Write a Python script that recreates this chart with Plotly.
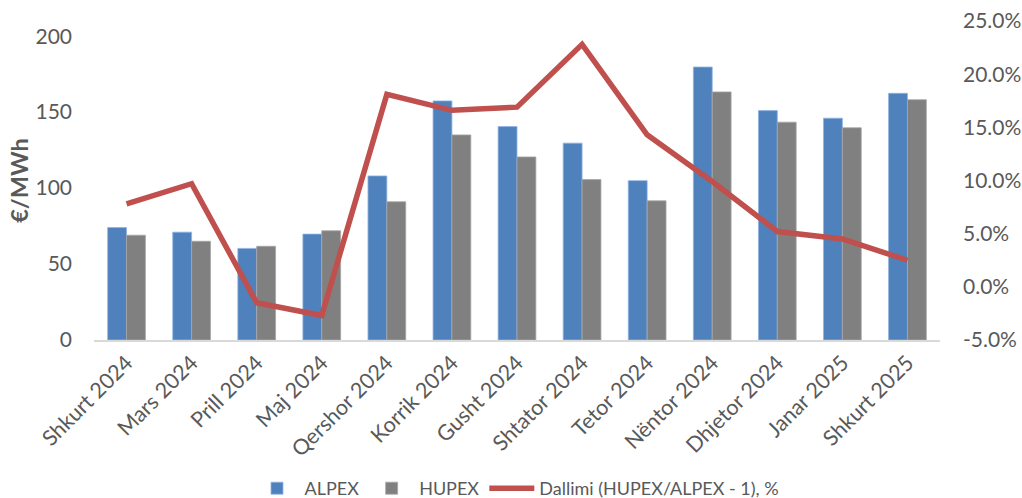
import plotly.graph_objects as go

categories = ["Shkurt 2024", "Mars 2024", "Prill 2024", "Maj 2024", "Qershor 2024",
              "Korrik 2024", "Gusht 2024", "Shtator 2024", "Tetor 2024", "Nëntor 2024",
              "Dhjetor 2024", "Janar 2025", "Shkurt 2025"]
alpex = [74, 71, 60.3, 69.7, 108, 157.4, 140.5, 129.6, 104.9, 179.7, 151, 146, 162.4]
hupex = [69, 65, 61.7, 71.9, 91, 135, 120.5, 105.6, 91.6, 163.3, 143.4, 139.7, 158.2]
diff_pct = [7.8, 9.7, -1.5, -2.7, 18.1, 16.6, 16.9, 22.8, 14.3, 9.9, 5.2, 4.5, 2.5]

FONT = "Lato, Open Sans, sans-serif"
TXT = "#595959"

fig = go.Figure()
fig.add_trace(go.Bar(name="ALPEX", x=categories, y=alpex,
                     marker=dict(color="#4F81BD", line=dict(color="#8EB4E3", width=0.8))))
fig.add_trace(go.Bar(name="HUPEX", x=categories, y=hupex,
                     marker=dict(color="#808080", line=dict(color="#A6A6A6", width=0.8))))
fig.add_trace(go.Scatter(name="Dallimi (HUPEX/ALPEX - 1), %", x=categories, y=diff_pct,
                         yaxis="y2", mode="lines",
                         line=dict(color="#C0504D", width=5.5)))

fig.update_layout(
    width=1022, height=507,
    margin=dict(l=94, r=82, t=21, b=167),
    paper_bgcolor="white", plot_bgcolor="white",
    barmode="group", bargap=0.42, bargroupgap=0,
    font=dict(family=FONT, size=21, color=TXT),
    xaxis=dict(tickangle=-45, showline=True, linecolor="#D9D9D9", linewidth=1.5,
               ticks="", showgrid=False, automargin=False,
               tickfont=dict(size=21.5, color=TXT)),
    yaxis=dict(range=[0, 210], tickvals=[0, 50, 100, 150, 200], showgrid=False,
               zeroline=False, showline=False, ticks="", automargin=False,
               ticklabelstandoff=21,
               title=dict(text="<b>€/MWh</b>", font=dict(size=23.5, color=TXT), standoff=0),
               tickfont=dict(size=21, color=TXT)),
    yaxis2=dict(range=[-5, 25], tickvals=[-5, 0, 5, 10, 15, 20, 25],
                ticktext=["-5.0%", "0.0%", "5.0%", "10.0%", "15.0%", "20.0%", "25.0%"],
                overlaying="y", side="right", showgrid=False, zeroline=False,
                showline=False, ticks="", automargin=False, ticklabelstandoff=22,
                tickfont=dict(size=21, color=TXT)),
    legend=dict(orientation="h", x=0.5, xanchor="center", xref="paper",
                y=0.0, yanchor="bottom", yref="container",
                font=dict(size=18, color=TXT), itemwidth=45),
    showlegend=True,
)

fig.write_html("out.html", config={"displayModeBar": False},
               post_script="document.body.style.margin='0';document.body.style.overflow='hidden';")
